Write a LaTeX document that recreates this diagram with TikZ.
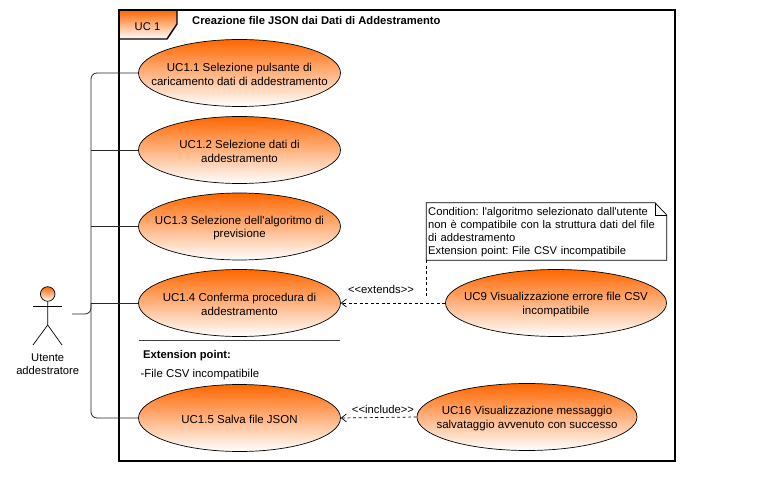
\documentclass[tikz,border=0pt]{standalone}
\usepackage{fontspec}
\newfontfamily\umlfont{Liberation Sans}
\usepackage{tikz}
\usetikzlibrary{arrows.meta}
\usetikzlibrary{calc}
\usetikzlibrary{shapes.geometric}
\definecolor{ucorange}{RGB}{255,102,0}
\frenchspacing
\begin{document}
\begin{tikzpicture}[x=1pt, y=-1pt,
    every node/.style={font=\umlfont\fontsize{11.2}{13.2}\selectfont},
    usecase/.style={ellipse, draw, line width=0.7pt, top color=ucorange, bottom color=white,
        minimum width=202pt, minimum height=67pt, inner sep=-30pt, align=center,
        font=\umlfont\fontsize{11.5}{13.2}\selectfont},
    twoline/.style={usecase, execute at begin node=\rule{0pt}{24.5pt}},
    oneline/.style={usecase, execute at begin node=\rule{0pt}{11pt}},
    assoc/.style={line width=0.8pt, black!85},
    dep/.style={dashed, dash pattern=on 3pt off 2.5pt, line width=0.7pt, -{Straight Barb[length=5pt, width=8pt]}},
    stereo/.style={font=\umlfont\fontsize{11.3}{13}\selectfont, inner sep=0pt},
    plain/.style={inner sep=0pt}]

    \useasboundingbox (0, 0) rectangle (771, 478);

    \node [twoline] (uc11) at (239.5, 73)
    {UC1.1 Selezione pulsante di\\caricamento dati di addestramento};
    \node [twoline] (uc12) at (239.5, 150)
    {UC1.2 Selezione dati di\\addestramento};
    \node [twoline] (uc13) at (239.5, 226.5)
    {UC1.3 Selezione dell'algoritmo di\\previsione};
    \node [twoline] (uc14) at (239.5, 303)
    {UC1.4 Conferma procedura di\\addestramento};
    \node [oneline] (uc15) at (239.5, 418)
    {UC1.5 Salva file JSON};
    \node [twoline, minimum width=221pt] (uc9) at (556, 303)
    {UC9 Visualizzazione errore file CSV\\incompatibile};
    \node [twoline, minimum width=220pt] (uc16) at (527, 417)
    {UC16 Visualizzazione messaggio\\salvataggio avvenuto con successo};

    \shade [top color=ucorange, bottom color=white, draw, line width=1.4pt]
    (119, 10) -- (177, 10) -- (177, 24) -- (167, 39) -- (119, 39) -- cycle;
    \draw [line width=1.4pt] (119, 10) rectangle (675, 461);
    \node (tab) at (147.5, 26.5) {UC 1};
    \node [plain, anchor=west, font=\umlfont\bfseries\fontsize{11.2}{13.2}\selectfont] (title) at (192, 21)
    {Creazione file JSON dai Dati di Addestramento};

    \coordinate (actorport) at (72, 314);
    \coordinate (bus) at (91, 314);
    \draw [assoc, rounded corners=6pt] (uc11.west) -| (bus) |- (uc15.west);
    \draw [assoc, rounded corners=6pt] (actorport) -| (uc14.west -| bus);
    \draw [assoc] (uc12.west) -- (uc12.west -| bus);
    \draw [assoc] (uc13.west) -- (uc13.west -| bus);
    \draw [assoc] (uc14.west) -- (uc14.west -| bus);

    \shade [top color=ucorange, bottom color=white, draw, line width=0.7pt] (47.7, 294) circle (7.3);
    \draw [line width=0.7pt] (47.7, 301.3) -- (47.7, 325) -- (33, 345);
    \draw [line width=0.7pt] (47.7, 325) -- (62, 345);
    \draw [line width=0.7pt] (33, 306) -- (62, 306);
    \node [plain, align=center] (actor) at (47.7, 364.5) {Utente\\addestratore};

    \draw [line width=0.8pt, black!75] (139, 340) -- (340, 340);
    \node [plain, anchor=west, font=\umlfont\bfseries\fontsize{11.2}{13.2}\selectfont] (extpoint) at (143, 356)
    {Extension point:};
    \node [plain, anchor=west, font=\umlfont\fontsize{11.4}{13.2}\selectfont] (extfile) at (140.5, 375) {-File CSV incompatibile};

    \draw [dep] (uc9.west) -- (uc14.east);
    \draw [dep] (uc16.west) -- (uc15.east);
    \node [stereo] (extends) at (381, 289) {<{}<extends>{}>};
    \node [stereo] (include) at (383, 409) {<{}<include>{}>};

    \draw [fill=white, line width=0.7pt] (426.3, 260.3) coordinate (notecorner) -- (426.3, 202.7) -- (655, 202.7)
    -- (666.7, 215) -- (666.7, 260.3) -- cycle;
    \draw [line width=0.7pt] (655, 202.7) -- (655, 215) -- (666.7, 215);
    \node [plain, anchor=north west, align=left, text width=238pt] (note) at (428, 207)
    {Condition: l'algoritmo selezionato dall'utente\\non è compatibile con la struttura dati del file\\di addestramento\\Extension point: File CSV incompatibile};
    \coordinate (noteend) at (426.3, 298);
    \draw [dashed, dash pattern=on 3pt off 2.5pt, line width=0.7pt] (notecorner) -- (noteend);

\end{tikzpicture}
\end{document}
